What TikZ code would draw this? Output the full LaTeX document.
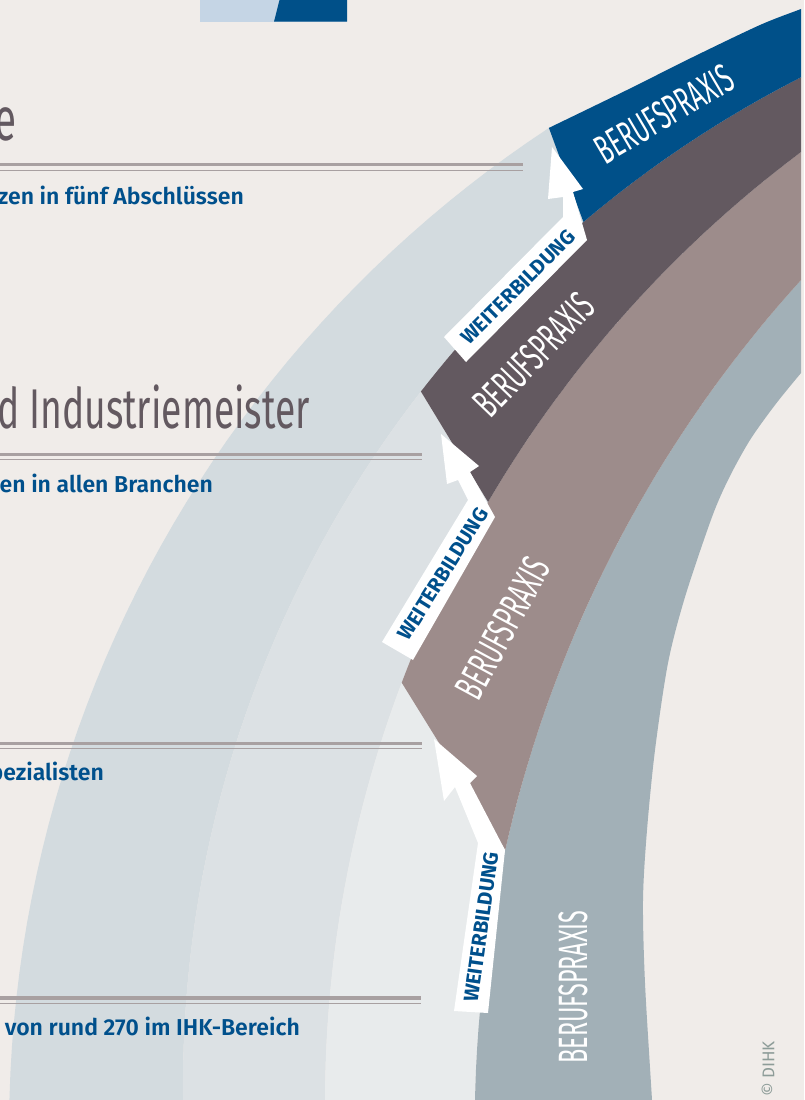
\documentclass[tikz,border=0pt]{standalone}
\usepackage{fontspec}
\setmainfont{Fira Sans}
\newfontfamily\headfont{Fira Sans}[FakeStretch=0.665]
\newfontfamily\praxisfont{Fira Sans}[FakeStretch=0.57]
\newfontfamily\leadfont{Fira Sans SemiBold}
\newfontfamily\tagfont{Fira Sans Bold}

\definecolor{paper}{HTML}{F0ECE9}
\definecolor{bandA}{HTML}{D3DBDF}
\definecolor{bandB}{HTML}{DCE1E4}
\definecolor{bandC}{HTML}{E8EBEC}
\definecolor{blueband}{HTML}{005089}
\definecolor{darkband}{HTML}{635960}
\definecolor{mauveband}{HTML}{9D8C8B}
\definecolor{grayband}{HTML}{A2B0B7}
\definecolor{paleblue}{HTML}{C5D5E5}
\definecolor{rulegray}{HTML}{A8A0A1}
\definecolor{headgray}{HTML}{635960}
\definecolor{dihkblue}{HTML}{00508C}
\definecolor{copygray}{HTML}{8D9C98}

\begin{document}
\begin{tikzpicture}[x=1pt, y=-1pt,
  praxis/.style={text=white, font=\praxisfont\fontsize{41}{41}\selectfont, inner sep=0pt},
  weiter/.style={text=dihkblue, font=\tagfont\fontsize{20.5}{20.5}\selectfont, inner sep=0pt},
  lead/.style={anchor=base east, text=dihkblue, font=\leadfont\fontsize{23}{23}\selectfont, inner sep=0pt},
  headline/.style={anchor=base east, text=headgray, inner sep=0pt},
  thickrule/.style={draw=rulegray, line width=3.5pt},
  thinrule/.style={draw=rulegray, line width=1.3pt}]

  \useasboundingbox (0,0) rectangle (804,1100);
  \clip (0,0) rectangle (804,1100);
  \fill[paper] (0,0) rectangle (804,1100);

  \fill[paleblue] (200,0) rectangle (347,21.7);
  \fill[blueband] (279.5,0) -- (347,0) -- (347,21.7) -- (274,21.7) -- cycle;

  % arcs: O1 (1209,1130) r1200, A1 (1314.6,1085.7) r1131.7,
  % A2 (1511.2,1102.1) r1186.2, A3 (1732.7,1125.2) r1258
  \begin{scope}
  \clip (0,0) rectangle (801,1100);
  \fill[bandA] plot[domain=178:236.63, samples=50] ({1209+1200*cos(\x)},{1130+1200*sin(\x)})
    -- plot[domain=229.75:178, samples=50] ({1314.6+1131.7*cos(\x)},{1085.7+1131.7*sin(\x)}) -- cycle;
  \fill[bandB] plot[domain=178:217.84, samples=40] ({1314.6+1131.7*cos(\x)},{1085.7+1131.7*sin(\x)})
    -- plot[domain=210.39:178, samples=40] ({1511.2+1186.2*cos(\x)},{1102.1+1186.2*sin(\x)}) -- cycle;
  \fill[bandC] plot[domain=178:200.71, samples=30] ({1511.2+1186.2*cos(\x)},{1102.1+1186.2*sin(\x)})
    -- plot[domain=192.64:178, samples=30] ({1732.7+1258*cos(\x)},{1125.2+1258*sin(\x)}) -- cycle;
  \fill[grayband] plot[domain=178:232, samples=60] ({1732.7+1258*cos(\x)},{1125.2+1258*sin(\x)})
    -- plot[smooth] coordinates {(835,333) (801,373) (775,405) (750,440) (729,478) (712,517)
       (685,597) (668,663) (655,750) (647,830) (643,900) (645,983) (652,1100) (656,1170)} -- cycle;
  \fill[mauveband] plot[domain=200.71:240, samples=50] ({1511.2+1186.2*cos(\x)},{1102.1+1186.2*sin(\x)})
    -- plot[domain=232:192.64, samples=50] ({1732.7+1258*cos(\x)},{1125.2+1258*sin(\x)}) -- cycle;
  \fill[darkband] plot[domain=217.84:245, samples=40] ({1314.6+1131.7*cos(\x)},{1085.7+1131.7*sin(\x)})
    -- plot[domain=240:210.39, samples=40] ({1511.2+1186.2*cos(\x)},{1102.1+1186.2*sin(\x)}) -- cycle;
  \fill[blueband] plot[smooth] coordinates {(548.9,127.9) (627,90) (693,57) (760,25) (801,9) (830,-2)}
    -- plot[domain=245:229.75, samples=30] ({1314.6+1131.7*cos(\x)},{1085.7+1131.7*sin(\x)}) -- cycle;
  \end{scope}

  \draw[thickrule] (0,164.7) -- (523,164.7);
  \draw[thinrule] (0,170.2) -- (523,170.2);
  \draw[thickrule] (0,454.3) -- (422,454.3);
  \draw[thinrule] (0,459.5) -- (422,459.5);
  \draw[thickrule] (0,743.3) -- (422,743.3);
  \draw[thinrule] (0,748.2) -- (422,748.2);
  \draw[thickrule] (0,998.2) -- (421,998.2);
  \draw[thinrule] (0,1003.3) -- (421,1003.3);

  % white arrows
  \fill[white] (444,337) -- (563,217) -- (563,197) -- (548,199) -- (552,147) -- (583,189)
    -- (573,192) -- (587,240) -- (466,362) -- cycle;
  \fill[white] (382,642) -- (468,500) -- (458,480) -- (447,484) -- (441,434) -- (479,466)
    -- (470,472) -- (495,517) -- (413,660) -- cycle;
  \fill[white] (454,1011) -- (478,843) -- (455,787) -- (444,801) -- (434,739) -- (477,776)
    -- (470,783) -- (505,850) -- (488,1013) -- cycle;

  \node[praxis, rotate=30.5] (praxisBlue) at (664,114) {BERUFSPRAXIS};
  \node[praxis, rotate=46] (praxisDark) at (534,355) {BERUFSPRAXIS};
  \node[praxis, rotate=61.6] (praxisMauve) at (503,628) {BERUFSPRAXIS};
  \node[praxis, rotate=90] (praxisGray) at (573,987) {BERUFSPRAXIS};
  \node[weiter, rotate=45] (weiterTop) at (518,287) {WEITERBILDUNG};
  \node[weiter, rotate=58] (weiterMid) at (443,574) {WEITERBILDUNG};
  \node[weiter, rotate=82] (weiterLow) at (481,927) {WEITERBILDUNG};

  \node[headline, font=\headfont\fontsize{61}{61}\selectfont] (headA) at (17,140) {e};
  \node[headline, font=\headfont\fontsize{56}{56}\selectfont] (headB) at (310,428) {d Industriemeister};
  \node[lead] (leadA) at (244,204) {zen in fünf Abschlüssen};
  \node[lead] (leadB) at (213,492) {en in allen Branchen};
  \node[lead] (leadC) at (104,780) {pezialisten};
  \node[lead] (leadD) at (300,1035) {von rund 270 im IHK-Bereich};

  \node[rotate=90, text=copygray, font=\fontsize{17}{17}\selectfont, inner sep=0pt] (copyright) at (768,1069) {© DIHK};
\end{tikzpicture}
\end{document}
